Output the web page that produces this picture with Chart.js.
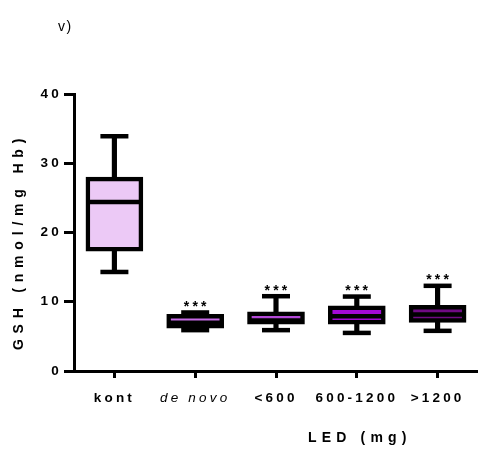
<!DOCTYPE html>
<html>
<head>
<meta charset="utf-8">
<script src="https://cdn.jsdelivr.net/npm/chart.js@4.4.0/dist/chart.umd.min.js"></script>
<style>
  html, body { margin: 0; padding: 0; background: #fff; }
  #wrap { width: 478px; height: 454px; }
</style>
</head>
<body>
<div id="wrap"><canvas id="gshChart" width="478" height="454"></canvas></div>
<script>
// box plot values (nmol/mg Hb)
const categories = ['kont', 'de novo', '<600', '600-1200', '>1200'];
const whiskerLow = [14.3, 5.9, 5.9, 5.5, 5.8];
const quartile1 = [17.3, 6.2, 6.75, 6.75, 7.0];
const medians = [24.4, 6.95, 7.3, 7.9, 8.15];
const quartile3 = [28.0, 8.2, 8.55, 9.4, 9.5];
const whiskerHigh = [33.9, 8.45, 10.8, 10.75, 12.3];
const significance = ['', '***', '***', '***', '***'];
const boxColors = ['#ecc9f6', '#c76ce6', '#b449d8', '#a20ad6', '#6f0a84'];
const yMin = 0, yMax = 40, yStep = 10;

const FONT = "'Liberation Sans', Arial, sans-serif";

// whiskers caps, medians, stars and titles
const boxExtras = {
    id: 'boxExtras',
    beforeDraw(chart) {
        chart.ctx.letterSpacing = '3.2px';
    },
    afterDatasetsDraw(chart) {
        const { ctx, scales: { x, y } } = chart;
        ctx.save();
        ctx.strokeStyle = '#000';
        ctx.lineCap = 'butt';
        categories.forEach((c, i) => {
            const cx = x.getPixelForValue(i);
            ctx.lineWidth = 4.5;
            [whiskerLow[i], whiskerHigh[i]].forEach(v => {
                const py = y.getPixelForValue(v);
                ctx.beginPath();
                ctx.moveTo(cx - 14, py);
                ctx.lineTo(cx + 14, py);
                ctx.stroke();
            });
            const my = y.getPixelForValue(medians[i]);
            ctx.beginPath();
            ctx.moveTo(cx - 28, my);
            ctx.lineTo(cx + 28, my);
            ctx.stroke();
        });
        ctx.restore();
    },
    afterDraw(chart) {
        const { ctx, chartArea, scales: { x, y } } = chart;
        ctx.save();
        ctx.fillStyle = '#000';

        // significance stars
        ctx.font = 'bold 14px ' + FONT;
        ctx.letterSpacing = '3.2px';
        ctx.textAlign = 'center';
        ctx.textBaseline = 'middle';
        significance.forEach((s, i) => {
            if (!s) return;
            ctx.fillText(s, x.getPixelForValue(i) + 1.5, y.getPixelForValue(whiskerHigh[i]) - 5.5);
        });

        // axis titles
        ctx.font = 'bold 14px ' + FONT;
        ctx.letterSpacing = '5.2px';
        ctx.fillText('LED (mg)', x.getPixelForValue(3) + 3, 438);

        ctx.letterSpacing = '5.8px';
        ctx.save();
        ctx.translate(19, (chartArea.top + chartArea.bottom) / 2 + 12);
        ctx.rotate(-Math.PI / 2);
        ctx.fillText('GSH (nmol/mg Hb)', 3, 0);
        ctx.restore();

        // panel label
        ctx.font = '14px ' + FONT;
        ctx.letterSpacing = '1.5px';
        ctx.textAlign = 'left';
        ctx.fillText('v)', 58, 27);
        ctx.restore();
    }
};

const ctx = document.getElementById('gshChart').getContext('2d');

new Chart(ctx, {
    type: 'bar',
    data: {
        labels: categories,
        datasets: [
            {
                label: 'box',
                data: categories.map((c, i) => [quartile1[i], quartile3[i]]),
                backgroundColor: boxColors,
                borderColor: '#000',
                borderWidth: 4.5,
                borderSkipped: false,
                barThickness: 57,
                grouped: false,
                order: 1
            },
            {
                label: 'whisker',
                data: categories.map((c, i) => [whiskerLow[i], whiskerHigh[i]]),
                backgroundColor: '#000',
                borderWidth: 0,
                barThickness: 4.5,
                grouped: false,
                order: 2
            }
        ]
    },
    options: {
        responsive: false,
        animation: false,
        layout: { padding: { top: 94, left: 0, right: 0, bottom: 0 } },
        plugins: {
            legend: { display: false },
            tooltip: { enabled: false }
        },
        scales: {
            x: {
                offset: true,
                afterFit: (s) => { s.height = 83; },
                grid: {
                    display: true,
                    drawOnChartArea: false,
                    drawTicks: true,
                    tickLength: 7,
                    tickWidth: 3,
                    tickColor: '#000',
                    offset: false
                },
                border: { display: true, color: '#000', width: 3 },
                ticks: {
                    color: '#000',
                    padding: 12,
                    autoSkip: false,
                    maxRotation: 0,
                    font: (c) => c.index === 1
                        ? { family: FONT, size: 13.5, style: 'italic', weight: 'normal' }
                        : { family: FONT, size: 13.5, weight: 'bold' }
                }
            },
            y: {
                min: yMin,
                max: yMax,
                afterFit: (s) => { s.width = 74; },
                grid: {
                    display: true,
                    drawOnChartArea: false,
                    drawTicks: true,
                    tickLength: 10,
                    tickWidth: 3,
                    tickColor: '#000'
                },
                border: { display: true, color: '#000', width: 3 },
                ticks: {
                    stepSize: yStep,
                    color: '#000',
                    padding: 2,
                    font: { family: FONT, size: 13.5, weight: 'bold' }
                }
            }
        }
    },
    plugins: [boxExtras]
});
</script>
</body>
</html>
